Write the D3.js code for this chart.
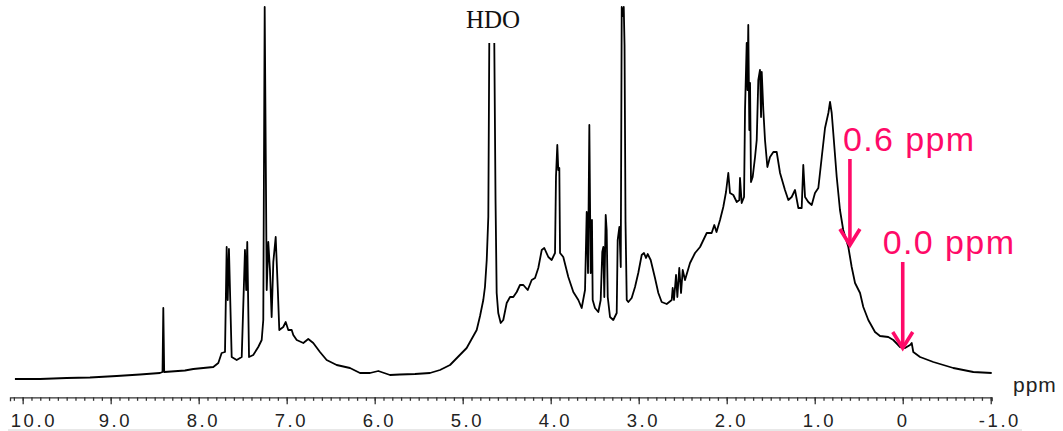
<!DOCTYPE html>
<html>
<head>
<meta charset="utf-8">
<script src="https://cdn.jsdelivr.net/npm/d3@7"></script>
<style>
  body { margin: 0; background: #fff; }
  svg { display: block; }
</style>
</head>
<body>
<svg id="chart" width="1063" height="431"></svg>
<script>
// 1H NMR spectrum.
// shiftPpm / intensity go together; null marks the clipped top of the HDO peak.
var shiftPpm = [
    10.088, 9.803, 9.500, 9.235, 8.932, 8.667, 8.440, 8.411, 8.402, 8.392,
    8.156, 8.061, 7.834, 7.777,
    7.739, 7.701, 7.682, 7.670, 7.656, 7.625, 7.568, 7.511, 7.474, 7.460,
    7.448, 7.428, 7.380, 7.323, 7.284, 7.266, 7.250, 7.227, 7.209, 7.190,
    7.171, 7.152, 7.125, 7.102, 7.084, 7.039, 7.011, 6.982, 6.943, 6.925,
    6.886, 6.811, 6.755, 6.698, 6.622, 6.546, 6.432, 6.281, 6.167, 6.053,
    5.959, 5.826, 5.713, 5.542, 5.372, 5.258, 5.144, 4.955, 4.841, 4.803, 4.766, 4.747, 4.727,
    4.709, 4.698, 4.669, 4.641, 4.627, 4.614, 4.596, 4.568, 4.539, 4.500,
    4.462, 4.425, 4.386, 4.349, 4.311, 4.261, 4.216, 4.178, 4.141, 4.102,
    4.073, 4.027, 3.989, 3.951, 3.940, 3.925, 3.914, 3.902, 3.894, 3.857,
    3.800, 3.743, 3.686, 3.648, 3.610, 3.591, 3.576, 3.561, 3.546, 3.531,
    3.523, 3.497, 3.459, 3.432, 3.414, 3.402, 3.391, 3.375, 3.364, 3.352,
    3.326, 3.289, 3.250, 3.239, 3.220, 3.204, 3.193, 3.182, 3.170, 3.161,
    3.150, 3.136, 3.118, 3.080, 3.042, 3.005, 2.966, 2.940, 2.917, 2.898,
    2.864, 2.815, 2.777, 2.739, 2.682, 2.625, 2.614, 2.599, 2.576, 2.561,
    2.539, 2.519, 2.500, 2.474, 2.417, 2.360, 2.303, 2.227, 2.171, 2.141,
    2.116, 2.076, 2.039, 2.008, 1.982, 1.963, 1.925, 1.886, 1.857, 1.849,
    1.830, 1.803, 1.792, 1.773, 1.764, 1.755, 1.743, 1.735, 1.724, 1.705,
    1.678, 1.659, 1.641, 1.622, 1.610, 1.602, 1.584, 1.565, 1.538, 1.508,
    1.470, 1.432, 1.394, 1.338, 1.300, 1.262, 1.224, 1.186, 1.148, 1.130,
    1.110, 1.073, 1.034, 0.997, 0.959, 0.920, 0.883, 0.845, 0.826, 0.807,
    0.789, 0.750, 0.713, 0.676, 0.618, 0.580, 0.542, 0.485, 0.448, 0.391,
    0.315, 0.258, 0.164, 0.107, 0.030, -0.026, -0.083, -0.102, -0.120, -0.197,
    -0.348, -0.575, -0.802, -1.011
];
var intensity = [
    -1, -1, 0, 0.5, 2, 3.5, 5, 6, 70, 6,
    7.5, 9, 11, 15,
    25, 26, 131, 78, 129, 21, 18, 21, 128, 88,
    136, 21, 23, 31, 38, 58, 371, 88, 136, 108,
    61, 116, 141, 91, 48, 51, 56, 48, 48, 43,
    38, 35, 39, 35, 26, 18, 13, 10, 5, 5,
    7, 3, 3.5, 4, 5, 8, 13, 30, 48, 62, 78, 91, 118,
    161, 335, null, 335, 178, 85, 65, 55, 58, 75,
    81, 81, 86, 93, 93, 88, 98, 100, 110, 128,
    130, 121, 118, 125, 201, 233, 208, 210, 125, 121,
    101, 86, 78, 70, 88, 166, 105, 253, 105, 158,
    78, 70, 66, 78, 126, 131, 81, 163, 148, 81,
    61, 58, 65, 138, 151, 111, 371, 362, 371, 333,
    156, 78, 76, 80, 91, 105, 123, 125, 120, 124,
    118, 100, 85, 76, 74, 78, 90, 78, 103, 81,
    110, 85, 108, 98, 115, 125, 131, 145, 145, 153,
    146, 158, 171, 186, 205, 185, 183, 176, 178, 200,
    175, 181, 268, 335, 288, 353, 248, 295, 196, 201,
    221, 238, 298, 308, 261, 306, 268, 238, 211, 221,
    226, 226, 205, 188, 178, 181, 188, 170, 170, 213,
    181, 176, 173, 185, 190, 221, 250, 265, 276, 265,
    245, 201, 168, 148, 131, 111, 95, 85, 71, 58,
    46, 42, 41, 38, 31, 30, 33, 35, 26, 21,
    16, 10, 6, 5
];

var majorTicks = [10, 9, 8, 7, 6, 5, 4, 3, 2, 1, 0, -1];
var axisUnit = 'ppm';

var solventLabel = 'HDO';
var solventPpm = 4.655;

var markPpm = [0.6, 0.0];
var markLabel = ['0.6 ppm', '0.0 ppm'];
var markHeight = [133, 30];   // spectrum height where each arrow lands

var svg = d3.select('#chart');
var pink = '#ff0a68';

var x = d3.scaleLinear().domain([10.144, -1.011]).range([10, 991.7]);
var y = d3.scaleLinear().domain([0, 371]).range([378, 7]);

var points = shiftPpm.map(function(p, i) { return { ppm: p, v: intensity[i] }; });

var line = d3.line()
        .defined(d => d.v != null)
        .x(d => x(d.ppm))
        .y(d => y(d.v));

svg.append('path')
        .datum(points)
        .attr('fill', 'none')
        .attr('stroke', '#000')
        .attr('stroke-width', 1.8)
        .attr('stroke-linejoin', 'round')
        .attr('d', line);

// axis: minor ticks every 0.1 ppm, major every 1 ppm
var axisY = 397.3;
var minorTicks = d3.range(101, -11, -1).map(d => d / 10);

svg.append('g')
        .attr('transform', 'translate(0,' + axisY + ')')
        .call(d3.axisBottom(x).tickValues(minorTicks).tickSize(3.5).tickSizeOuter(4).tickFormat(''))
        .call(g => g.selectAll('path, line').attr('stroke', '#333').attr('stroke-width', 1.3));

var major = svg.append('g')
        .attr('transform', 'translate(0,' + axisY + ')')
        .call(d3.axisBottom(x).tickValues(majorTicks).tickSize(7).tickSizeOuter(0)
            .tickFormat(d => d === 0 ? '0' : d.toFixed(1)));
major.select('.domain').remove();
major.selectAll('line').attr('stroke', '#333').attr('stroke-width', 1.3);
major.selectAll('text')
        .attr('y', 29.4)
        .attr('dy', 0)
        .attr('x', d => d === 0 ? 0 : -12.5)
        .attr('text-anchor', d => d === 0 ? 'middle' : 'start')
        .attr('fill', '#222')
        .style('font-family', '"Liberation Sans", Arial, sans-serif')
        .style('font-size', '18.5px')
        .style('letter-spacing', '2.6px');

// faint rule under the tick labels
svg.append('line')
        .attr('x1', 8).attr('x2', 1022)
        .attr('y1', 430).attr('y2', 430)
        .attr('stroke', '#d0d0d0')
        .attr('stroke-width', 1);

svg.append('text')
        .attr('x', 1013)
        .attr('y', 391.7)
        .attr('fill', '#222')
        .style('font-family', '"Liberation Sans", Arial, sans-serif')
        .style('font-size', '21px')
        .style('letter-spacing', '1px')
        .text(axisUnit);

svg.append('text')
        .attr('x', x(solventPpm))
        .attr('y', 28.3)
        .attr('text-anchor', 'middle')
        .attr('fill', '#111')
        .style('font-family', '"Liberation Serif", "Times New Roman", serif')
        .style('font-size', '25px')
        .text(solventLabel);

// pink arrows marking the two shifts
var shaftLength = 86;
var labelShift = [-7, -20];
markPpm.forEach(function(p, i) {
    var ax = x(p);
    var tip = y(markHeight[i]);
    var top = tip - shaftLength;
    var g = svg.append('g')
            .attr('stroke', pink)
            .attr('stroke-width', 3.6)
            .attr('fill', 'none');
    g.append('line')
            .attr('x1', ax).attr('x2', ax)
            .attr('y1', top).attr('y2', tip - 1);
    g.append('path')
            .attr('stroke-linejoin', 'miter')
            .attr('d', 'M' + (ax - 10) + ',' + (tip - 16) + 'L' + ax + ',' + tip + 'L' + (ax + 10) + ',' + (tip - 16));
    svg.append('text')
            .attr('x', ax + labelShift[i])
            .attr('y', top - 8.5)
            .attr('fill', pink)
            .style('font-family', '"Liberation Sans", Arial, sans-serif')
            .style('font-size', '34px')
            .style('letter-spacing', '1.4px')
            .text(markLabel[i]);
});
</script>
</body>
</html>
